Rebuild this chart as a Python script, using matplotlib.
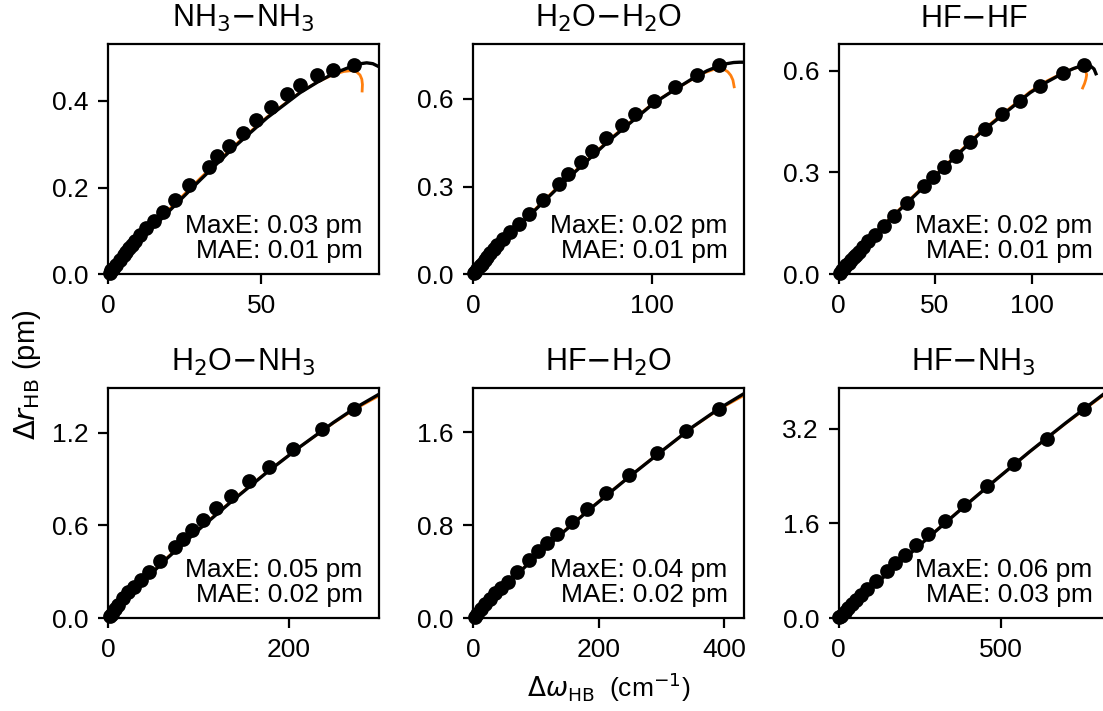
import matplotlib
matplotlib.use("Agg")
import matplotlib.pyplot as plt

plt.rcParams['font.family'] = ['Liberation Sans', 'DejaVu Sans']
plt.rcParams['mathtext.fontset'] = 'dejavusans'

# --- NH3-NH3 ---
nn_x = [0.5, 1.0, 1.5, 2.5, 3.9, 5.0, 5.9, 6.9, 7.8, 8.8, 10.5, 12.4, 14.8, 17.9, 21.9, 26.5,
        33.0, 35.7, 39.5, 43.9, 48.3, 53.3, 58.4, 62.7, 68.4, 73.6, 80.4]
nn_y = [0.004, 0.009, 0.013, 0.022, 0.034, 0.044, 0.052, 0.060, 0.068, 0.076, 0.090, 0.106, 0.124,
        0.144, 0.171, 0.206, 0.247, 0.272, 0.297, 0.326, 0.357, 0.386, 0.417, 0.436, 0.459, 0.471, 0.484]
nn_fit_x = [0, 8.3, 19.2, 30.1, 40.9, 51.9, 62.7, 68.5, 73.6, 77.5, 80.4, 82.5, 84.5, 86.5, 88.5]
nn_fit_y = [0, 0.063, 0.141, 0.218, 0.292, 0.361, 0.419, 0.444, 0.463, 0.474, 0.482, 0.486, 0.488, 0.486, 0.479]
nn_alt_x = [0, 8.3, 19.2, 30.1, 40.9, 51.9, 62.7, 68.5, 73.6, 77.0, 79.5, 81.2, 82.3, 82.9, 83.1, 83.0]
nn_alt_y = [0, 0.066, 0.145, 0.222, 0.295, 0.363, 0.420, 0.444, 0.461, 0.468, 0.470, 0.467, 0.460,
            0.450, 0.438, 0.423]

# --- H2O-H2O ---
ww_x = [0.5, 1.0, 2.3, 3.5, 4.7, 6.3, 7.9, 9.6, 11.4, 13.5, 16.5, 20.6, 25.8, 31.4, 38.9, 47.8,
        53.3, 60.2, 66.7, 74.2, 83.2, 90.6, 101.3, 113.1, 125.2, 137.7]
ww_y = [0.004, 0.008, 0.018, 0.027, 0.036, 0.048, 0.060, 0.072, 0.085, 0.101, 0.119, 0.143, 0.172,
        0.206, 0.254, 0.310, 0.343, 0.383, 0.423, 0.466, 0.511, 0.548, 0.594, 0.640, 0.680, 0.717]
ww_fit_x = [0, 20.6, 48.6, 76.6, 100.9, 113, 123.3, 131, 138.3, 142, 145.8, 149, 151.7]
ww_fit_y = [0, 0.136, 0.303, 0.460, 0.584, 0.632, 0.671, 0.696, 0.714, 0.720, 0.724, 0.725, 0.725]
ww_alt_x = [0, 20.6, 48.6, 76.6, 100.9, 113, 123.3, 129, 134.5, 138, 140.6, 142.6, 144.2, 145.4, 146.1]
ww_alt_y = [0, 0.139, 0.306, 0.463, 0.586, 0.632, 0.669, 0.688, 0.700, 0.703, 0.700, 0.692, 0.680,
            0.664, 0.641]

# --- HF-HF ---
ff_x = [0.8, 1.8, 2.9, 4.0, 5.2, 6.5, 7.8, 9.1, 10.4, 12.9, 15.5, 19.0, 23.3, 28.5, 35.7, 44.5,
        49.1, 54.7, 60.9, 68.1, 75.9, 84.5, 94.0, 104.3, 116.4, 127.3]
ff_y = [0.005, 0.012, 0.019, 0.026, 0.034, 0.042, 0.050, 0.058, 0.066, 0.081, 0.098, 0.117, 0.142,
        0.172, 0.211, 0.260, 0.288, 0.317, 0.350, 0.389, 0.429, 0.472, 0.512, 0.554, 0.593, 0.618]
ff_fit_x = [0, 21.6, 47.4, 73.3, 99.2, 108, 116.4, 122, 126.8, 130.2, 132.3, 133.3]
ff_fit_y = [0, 0.135, 0.275, 0.416, 0.535, 0.567, 0.593, 0.607, 0.616, 0.615, 0.605, 0.591]
ff_alt_x = [0, 21.6, 47.4, 73.3, 99.2, 108, 116.4, 121, 124.2, 126.5, 127.9, 128.5, 128.1, 127.4, 126.4]
ff_alt_y = [0, 0.137, 0.278, 0.419, 0.538, 0.570, 0.594, 0.605, 0.610, 0.609, 0.600, 0.588, 0.575,
            0.562, 0.549]

# --- H2O-NH3 ---
wn_x = [1.5, 3.7, 7.4, 11.1, 16.6, 22.1, 28.4, 35.8, 45.4, 57.2, 73.8, 82.3, 92.6, 105.1, 119.2,
        135.8, 155.7, 178.2, 204.8, 236.2, 272.0]
wn_y = [0.012, 0.029, 0.058, 0.087, 0.129, 0.168, 0.205, 0.248, 0.296, 0.367, 0.460, 0.512, 0.568,
        0.637, 0.711, 0.793, 0.886, 0.979, 1.091, 1.221, 1.355]
wn_fit_x = [0, 27.7, 64.6, 101.5, 138.4, 175.3, 212.1, 249.1, 272, 299.3]
wn_fit_y = [0, 0.175, 0.385, 0.580, 0.765, 0.942, 1.108, 1.265, 1.355, 1.447]
wn_alt_y = [0, 0.178, 0.389, 0.584, 0.768, 0.944, 1.108, 1.262, 1.349, 1.437]

# --- HF-H2O ---
fw_x = [2.0, 5.4, 11.8, 18.6, 26.6, 34.6, 43.7, 54.8, 70.2, 89.4, 103.7, 118.1, 134.0, 157.0,
        180.9, 211.7, 248.9, 292.6, 339.4, 392.5]
fw_y = [0.014, 0.037, 0.079, 0.122, 0.168, 0.214, 0.259, 0.316, 0.397, 0.503, 0.575, 0.647, 0.727,
        0.824, 0.942, 1.078, 1.235, 1.416, 1.609, 1.802]
fw_fit_x = [0, 31.9, 85.2, 138.3, 191.5, 244.7, 297.9, 351.1, 392.5, 432]
fw_fit_y = [0, 0.180, 0.455, 0.715, 0.962, 1.197, 1.424, 1.648, 1.802, 1.930]
fw_alt_y = [0, 0.183, 0.459, 0.719, 0.965, 1.199, 1.425, 1.646, 1.797, 1.915]

# --- HF-NH3 ---
fn_x = [3.0, 8.2, 18.6, 28.9, 41.2, 54.6, 70.1, 87.6, 114.4, 150.6, 175.3, 206.2, 238.2, 277.4,
        327.9, 386.6, 456.8, 542.3, 642.4, 758.8]
fn_y = [0.016, 0.045, 0.102, 0.169, 0.237, 0.310, 0.395, 0.491, 0.632, 0.806, 0.931, 1.072, 1.229,
        1.422, 1.636, 1.907, 2.228, 2.596, 3.031, 3.539]
fn_fit_x = [0, 90, 178.4, 280, 384.6, 490, 590.8, 700, 817.6, 838]
fn_fit_y = [0, 0.455, 0.885, 1.375, 1.870, 2.358, 2.815, 3.290, 3.780, 3.865]
fn_alt_y = [0, 0.459, 0.890, 1.380, 1.874, 2.360, 2.814, 3.283, 3.765, 3.848]

titles = [r'NH$_3$$-$NH$_3$', r'H$_2$O$-$H$_2$O', r'HF$-$HF',
          r'H$_2$O$-$NH$_3$', r'HF$-$H$_2$O', r'HF$-$NH$_3$']
max_err = [0.03, 0.02, 0.02, 0.05, 0.04, 0.06]
mean_err = [0.01, 0.01, 0.01, 0.02, 0.02, 0.03]
xticks = [[0, 50], [0, 100], [0, 50, 100], [0, 200], [0, 200, 400], [0, 500]]
yticks = [[0, 0.2, 0.4], [0, 0.3, 0.6], [0, 0.3, 0.6], [0, 0.6, 1.2], [0, 0.8, 1.6], [0, 1.6, 3.2]]

panels = [
    (nn_x, nn_y, nn_fit_x, nn_fit_y, nn_alt_x, nn_alt_y),
    (ww_x, ww_y, ww_fit_x, ww_fit_y, ww_alt_x, ww_alt_y),
    (ff_x, ff_y, ff_fit_x, ff_fit_y, ff_alt_x, ff_alt_y),
    (wn_x, wn_y, wn_fit_x, wn_fit_y, wn_fit_x, wn_alt_y),
    (fw_x, fw_y, fw_fit_x, fw_fit_y, fw_fit_x, fw_alt_y),
    (fn_x, fn_y, fn_fit_x, fn_fit_y, fn_fit_x, fn_alt_y),
]

fig = plt.figure(figsize=(5.515, 3.555), dpi=200)

lefts = [0.0982, 0.4291, 0.7602]
bottoms = [0.6142, 0.1304]
w, h = 0.2452, 0.3245

axes = []
for i, (x, y, fx, fy, ax_x, ax_y) in enumerate(panels):
    ax = fig.add_axes([lefts[i % 3], bottoms[i // 3], w, h])
    ax.plot(ax_x, ax_y, color='#ff7f0e', lw=1.0, zorder=2)
    ax.plot(fx, fy, color='black', lw=1.2, zorder=3)
    ax.plot(x, y, 'o', color='black', ms=4.3, zorder=4, clip_on=False)
    ax.set_xlim(0, 1.1 * max(x))
    ax.set_ylim(0, 1.1 * max(y))
    ax.set_xticks(xticks[i])
    ax.set_yticks(yticks[i])
    ax.yaxis.set_major_formatter(matplotlib.ticker.FormatStrFormatter('%.1f'))
    ax.tick_params(labelsize=9.5)
    ax.set_title(titles[i], fontsize=11)
    ax.text(0.94, 0.05, f'MaxE: {max_err[i]:.2f} pm\nMAE: {mean_err[i]:.2f} pm',
            transform=ax.transAxes, ha='right', va='bottom', fontsize=9.5,
            linespacing=1.05, multialignment='right')
    axes.append(ax)

axes[4].set_xlabel(r'$\Delta\omega_\mathrm{HB}$  (cm$^{-1}$)', fontsize=9.5, labelpad=3)
fig.text(0.0245, 0.473, r'$\Delta r_\mathrm{HB}$ (pm)', rotation=90,
         ha='center', va='center', fontsize=10.5)

fig.savefig('out.png', dpi=200)
